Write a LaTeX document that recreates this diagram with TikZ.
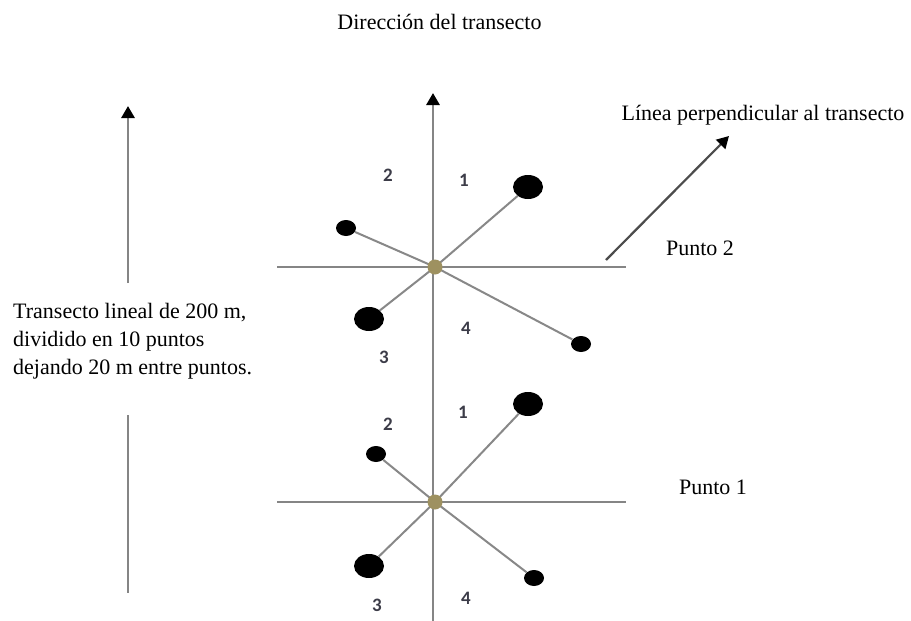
\documentclass[tikz,border=0pt]{standalone}
\usepackage{fontspec}
\setmainfont{Liberation Serif}
\newfontfamily\lblfont{Carlito}
\usetikzlibrary{arrows.meta,shapes.geometric}
\definecolor{axisgray}{HTML}{858585}
\definecolor{spokegray}{HTML}{888888}
\definecolor{olive}{HTML}{9E9160}
\definecolor{lblcol}{HTML}{3C3C48}
\tikzset{
  txt/.style={font=\fontsize{22}{28}\selectfont, inner sep=0pt, text=black},
  quad/.style={font=\lblfont\bfseries\fontsize{19}{19}\selectfont, text=lblcol, inner sep=0pt},
  axis/.style={draw=axisgray, line width=2.8pt},
  spoke/.style={draw=spokegray, line width=2pt},
  bigdot/.style={ellipse, fill=black, minimum width=30pt, minimum height=24pt, inner sep=0pt},
  smalldot/.style={ellipse, fill=black, minimum width=20pt, minimum height=16pt, inner sep=0pt},
  ctr/.style={circle, fill=olive, minimum size=15pt, inner sep=0pt},
  tip/.style={-{Triangle[width=13pt,length=12pt,color=black]}},
}
\begin{document}
\begin{tikzpicture}[x=1pt,y=-1pt]
\useasboundingbox[fill=white] (0,0) rectangle (911,621);

% texts
\node[txt] (title) at (439.5,22) {Dirección del transecto};
\node[txt] (perp) at (763,115) {Línea perpendicular al transecto};
\node[txt] (p2) at (700,248) {Punto 2};
\node[txt] (p1) at (713,487) {Punto 1};
\node[txt, align=left, anchor=west] (desc) at (13,341) {Transecto lineal de 200 m,\\dividido en 10 puntos\\dejando 20 m entre puntos.};

% left arrows
\coordinate (la0) at (128,283);
\coordinate (la1) at (128,106);
\draw[axis, tip] (la0) -- (la1);
\coordinate (lb0) at (128,415);
\coordinate (lb1) at (128,593);
\draw[axis] (lb0) -- (lb1);

% main axis
\coordinate (ax0) at (433,621);
\coordinate (ax1) at (433,93);
\draw[axis, tip] (ax0) -- (ax1);

% horizontal lines
\coordinate (h2a) at (277,267);
\coordinate (h2b) at (626,267);
\draw[axis, line width=2.4pt] (h2a) -- (h2b);
\coordinate (h1a) at (277,502);
\coordinate (h1b) at (626,502);
\draw[axis, line width=2.4pt] (h1a) -- (h1b);

% perpendicular arrow
\coordinate (d0) at (606,260);
\coordinate (d1) at (729,136);
\draw[draw=black!70, line width=2.2pt, tip] (d0) -- (d1);

% point 2
\node[bigdot] (a1) at (528,187) {};
\node[smalldot] (a2) at (346,228) {};
\node[bigdot] (a3) at (369,319) {};
\node[smalldot] (a4) at (581,344) {};
\coordinate (c2) at (435,267);
\foreach \n in {a1,a2,a3,a4} \draw[spoke] (c2) -- (\n);
\node[ctr] (c2n) at (c2) {};
\node[quad] (q21) at (464,180) {1};
\node[quad] (q22) at (388,175) {2};
\node[quad] (q23) at (384,357) {3};
\node[quad] (q24) at (466,328) {4};

% point 1
\node[bigdot] (b1) at (528,404) {};
\node[smalldot] (b2) at (376,454) {};
\node[bigdot] (b3) at (369,566) {};
\node[smalldot] (b4) at (534,578) {};
\coordinate (c1) at (435,502);
\foreach \n in {b1,b2,b3,b4} \draw[spoke] (c1) -- (\n);
\node[ctr] (c1n) at (c1) {};
\node[quad] (q11) at (463,412) {1};
\node[quad] (q12) at (388,424) {2};
\node[quad] (q13) at (377,605) {3};
\node[quad] (q14) at (466,598) {4};
\end{tikzpicture}
\end{document}
